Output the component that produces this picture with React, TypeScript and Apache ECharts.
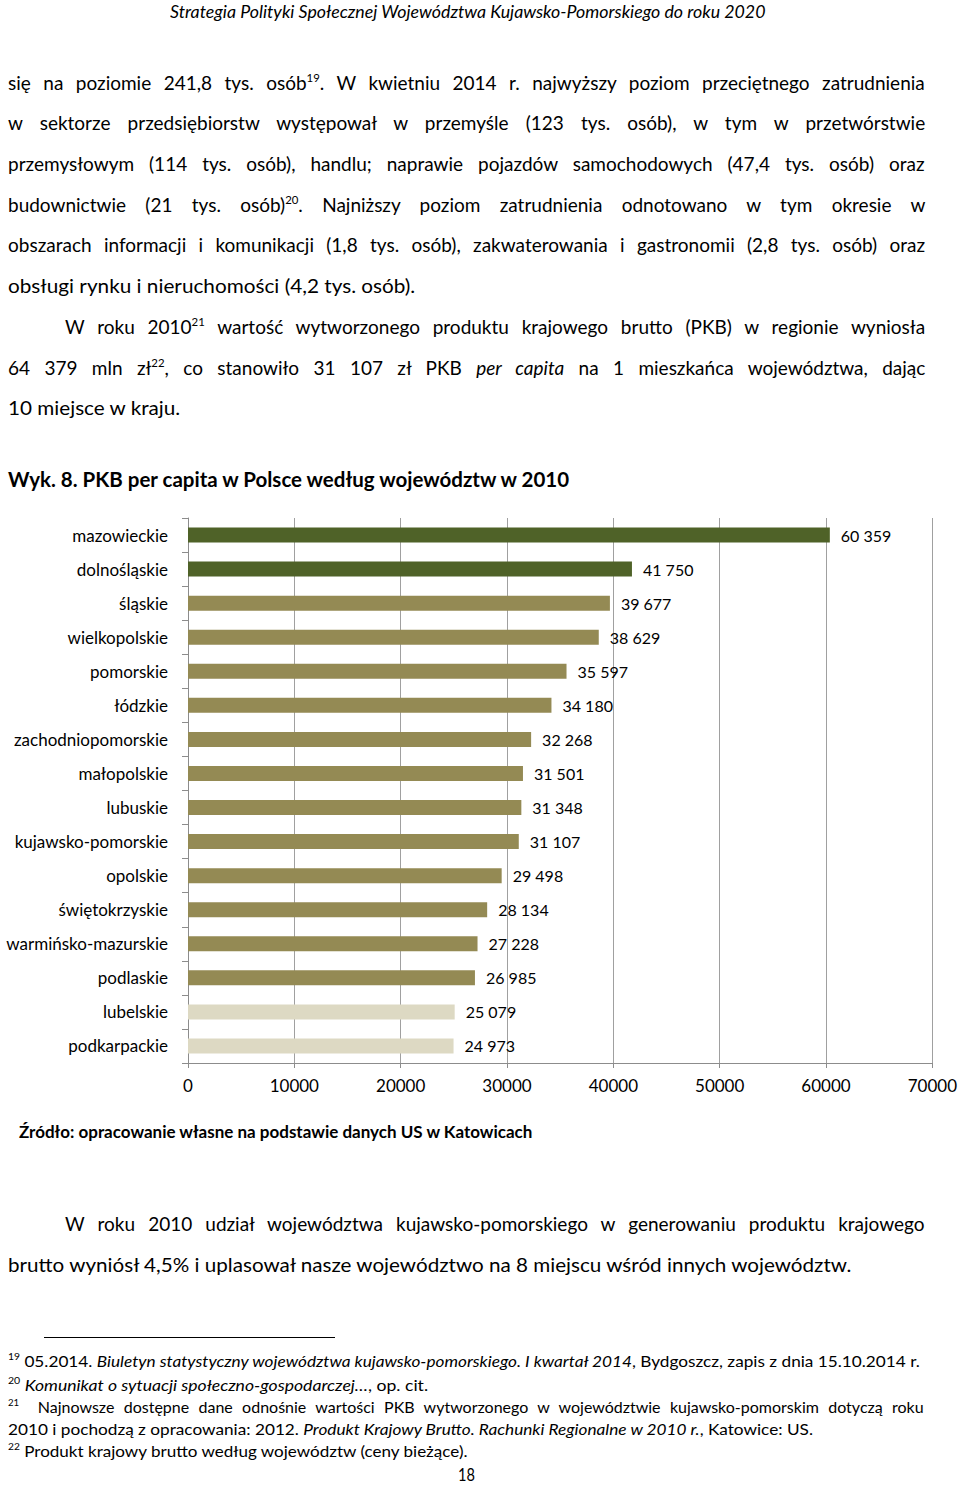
import React, { useEffect, useLayoutEffect, useRef } from "react";
import * as echarts from "echarts";

// ---------- chart data ----------
const categories = [
  "mazowieckie",
  "dolnośląskie",
  "śląskie",
  "wielkopolskie",
  "pomorskie",
  "łódzkie",
  "zachodniopomorskie",
  "małopolskie",
  "lubuskie",
  "kujawsko-pomorskie",
  "opolskie",
  "świętokrzyskie",
  "warmińsko-mazurskie",
  "podlaskie",
  "lubelskie",
  "podkarpackie",
];
const gdpPerCapita = [
  60359, 41750, 39677, 38629, 35597, 34180, 32268, 31501, 31348, 31107, 29498,
  28134, 27228, 26985, 25079, 24973,
];
const colorTier = [0, 0, 1, 1, 1, 1, 1, 1, 1, 1, 1, 1, 1, 1, 2, 2];
const tierColors = ["#4F6228", "#948A54", "#DDD9C3"];
const xTicks = [0, 10000, 20000, 30000, 40000, 50000, 60000, 70000];
const chartTitle = "Wyk. 8. PKB per capita w Polsce według województw w 2010";
const sourceNote = "Źródło: opracowanie własne na podstawie danych US w Katowicach";

// ---------- page text ----------
type Seg = [string, string?];
interface PLine {
  x: number;
  y: number;
  w: number;
  size: number;
  j?: boolean;
  italic?: boolean;
  segs: Seg[];
}

const LINES: PLine[] = [
  { x: 170, y: 13, w: 595, size: 17, italic: true, segs: [["Strategia Polityki Społecznej Województwa Kujawsko-Pomorskiego do roku 2020"]] },
  { x: 8, y: 84, w: 917, size: 19, j: true, segs: [["się na poziomie 241,8 tys. osób"], ["19", "s"], [". W kwietniu 2014 r. najwyższy poziom przeciętnego zatrudnienia"]] },
  { x: 8, y: 124, w: 917, size: 19, j: true, segs: [["w sektorze przedsiębiorstw występował w przemyśle (123 tys. osób), w tym w przetwórstwie"]] },
  { x: 8, y: 165, w: 917, size: 19, j: true, segs: [["przemysłowym (114 tys. osób), handlu; naprawie pojazdów samochodowych (47,4 tys. osób) oraz"]] },
  { x: 8, y: 206, w: 917, size: 19, j: true, segs: [["budownictwie (21 tys. osób)"], ["20", "s"], [". Najniższy poziom zatrudnienia odnotowano w tym okresie w"]] },
  { x: 8, y: 246, w: 917, size: 19, j: true, segs: [["obszarach informacji i komunikacji (1,8 tys. osób), zakwaterowania i gastronomii (2,8 tys. osób) oraz"]] },
  { x: 8, y: 287, w: 407, size: 19, segs: [["obsługi rynku i nieruchomości (4,2 tys. osób)."]] },
  { x: 65, y: 328, w: 860, size: 19, j: true, segs: [["W roku 2010"], ["21", "s"], [" wartość wytworzonego produktu krajowego brutto (PKB) w regionie wyniosła"]] },
  { x: 8, y: 369, w: 917, size: 19, j: true, segs: [["64 379 mln zł"], ["22", "s"], [", co stanowiło 31 107 zł PKB "], ["per capita", "i"], [" na 1 mieszkańca województwa, dając"]] },
  { x: 8, y: 409, w: 172, size: 19, segs: [["10 miejsce w kraju."]] },
  { x: 65, y: 1225, w: 860, size: 19, j: true, segs: [["W roku 2010 udział województwa kujawsko-pomorskiego w generowaniu produktu krajowego"]] },
  { x: 8, y: 1266, w: 844, size: 19, segs: [["brutto wyniósł 4,5% i uplasował nasze województwo na 8 miejscu wśród innych województw."]] },
  { x: 8, y: 1362, w: 912, size: 16, segs: [["19", "s"], [" 05.2014. "], ["Biuletyn statystyczny województwa kujawsko-pomorskiego. I kwartał 2014", "i"], [", Bydgoszcz, zapis z dnia 15.10.2014 r."]] },
  { x: 8, y: 1386, w: 420, size: 16, segs: [["20", "s"], [" "], ["Komunikat o sytuacji społeczno-gospodarczej…", "i"], [", op. cit."]] },
  { x: 8, y: 1408, w: 916, size: 16, j: true, segs: [["21", "s"], ["  Najnowsze dostępne dane odnośnie wartości PKB wytworzonego w województwie kujawsko-pomorskim dotyczą roku"]] },
  { x: 8, y: 1430, w: 805, size: 16, segs: [["2010 i pochodzą z opracowania: 2012. "], ["Produkt Krajowy Brutto. Rachunki Regionalne w 2010 r.", "i"], [", Katowice: US."]] },
  { x: 8, y: 1452, w: 459, size: 16, segs: [["22", "s"], [" Produkt krajowy brutto według województw (ceny bieżące)."]] },
  { x: 458, y: 1475, w: 17, size: 18, segs: [["18"]] },
];

const CH_TOP = 455;
const CH_H = 700;

const fmt = (v: number) => String(v).replace(/\B(?=(\d{3})+(?!\d))/g, " ");

export default function App() {
  const chartRef = useRef<HTMLDivElement | null>(null);
  const lineRefs = useRef<(HTMLDivElement | null)[]>([]);

  useLayoutEffect(() => {
    const fit = () => {
      LINES.forEach((ln, i) => {
        const el = lineRefs.current[i];
        if (!el) return;
        el.style.wordSpacing = "0px";
        el.style.transform = "none";
        const nat = el.offsetWidth;
        if (!nat) return;
        const text = ln.segs.map((s) => s[0]).join("");
        const spaces = (text.match(/ /g) || []).length;
        if (ln.j && nat < ln.w && spaces > 0) {
          el.style.wordSpacing = (ln.w - nat) / spaces + "px";
        } else {
          el.style.transform = `scaleX(${ln.w / nat})`;
        }
      });
    };
    fit();
    const fonts = (document as any).fonts;
    if (fonts && fonts.ready) fonts.ready.then(fit);
  }, []);

  useEffect(() => {
    if (!chartRef.current) return;
    const chart = echarts.init(chartRef.current, undefined, { renderer: "svg" });
    const axisGray = "#8c8c8c";
    chart.setOption({
      animation: false,
      textStyle: { fontFamily: "Lato" },
      title: {
        text: chartTitle,
        left: 8,
        top: 13,
        padding: 0,
        textStyle: { fontSize: 20.5, fontWeight: "bold", color: "#000", fontFamily: "Lato", lineHeight: 22 },
      },
      grid: { left: 188, right: 23, top: 518 - CH_TOP, bottom: CH_TOP + CH_H - 1063 },
      xAxis: {
        type: "value",
        min: xTicks[0],
        max: xTicks[xTicks.length - 1],
        interval: xTicks[1] - xTicks[0],
        axisLine: { show: true, lineStyle: { color: axisGray, width: 1 } },
        axisTick: { show: true, length: 5, lineStyle: { color: axisGray } },
        splitLine: { show: true, lineStyle: { color: "#a0a0a0", width: 1 } },
        axisLabel: {
          fontSize: 17,
          color: "#000",
          margin: 14,
          fontFamily: "Lato",
          formatter: (v: number) => String(v),
        },
      },
      yAxis: {
        type: "category",
        data: categories,
        inverse: true,
        axisLine: { show: true, lineStyle: { color: axisGray, width: 1 } },
        axisTick: { show: true, length: 6, lineStyle: { color: axisGray } },
        axisLabel: { fontSize: 17, color: "#000", margin: 20, fontFamily: "Lato" },
        splitLine: { show: false },
      },
      series: [
        {
          type: "bar",
          data: gdpPerCapita.map((v, i) => ({ value: v, itemStyle: { color: tierColors[colorTier[i]] } })),
          barWidth: 15,
          label: {
            show: true,
            position: "right",
            distance: 11,
            fontSize: 16,
            color: "#000",
            fontFamily: "Lato",
            formatter: (p: any) => fmt(p.value),
          },
        },
      ],
      graphic: [
        {
          type: "text",
          x: 19,
          y: 1131 - CH_TOP,
          style: {
            text: sourceNote,
            fontSize: 17,
            fontWeight: "bold",
            fill: "#000",
            fontFamily: "Lato",
            verticalAlign: "middle",
            align: "left",
          },
        },
      ],
    });
    return () => chart.dispose();
  }, []);

  return (
    <div
      style={{
        position: "absolute",
        left: 0,
        top: 0,
        width: 960,
        height: 1485,
        overflow: "hidden",
        background: "#fff",
        color: "#000",
        fontFamily: "Lato, sans-serif",
      }}
    >
      {LINES.map((ln, i) => (
        <div
          key={i}
          ref={(el) => {
            lineRefs.current[i] = el;
          }}
          style={{
            position: "absolute",
            left: ln.x,
            top: ln.y - 0.634 * ln.size,
            width: "max-content",
            fontSize: ln.size,
            lineHeight: 1.15,
            whiteSpace: "pre",
            fontStyle: ln.italic ? "italic" : "normal",
            transformOrigin: "0 0",
          }}
        >
          {ln.segs.map(([t, st], k) =>
            st === "s" ? (
              <span key={k} style={{ fontSize: "0.6em", position: "relative", top: "-0.7em" }}>
                {t}
              </span>
            ) : st === "i" ? (
              <i key={k}>{t}</i>
            ) : (
              <span key={k}>{t}</span>
            )
          )}
        </div>
      ))}
      <div style={{ position: "absolute", left: 44, top: 1337, width: 291, height: 1, background: "#000" }} />
      <div ref={chartRef} style={{ position: "absolute", left: 0, top: CH_TOP, width: 960, height: CH_H }} />
    </div>
  );
}
